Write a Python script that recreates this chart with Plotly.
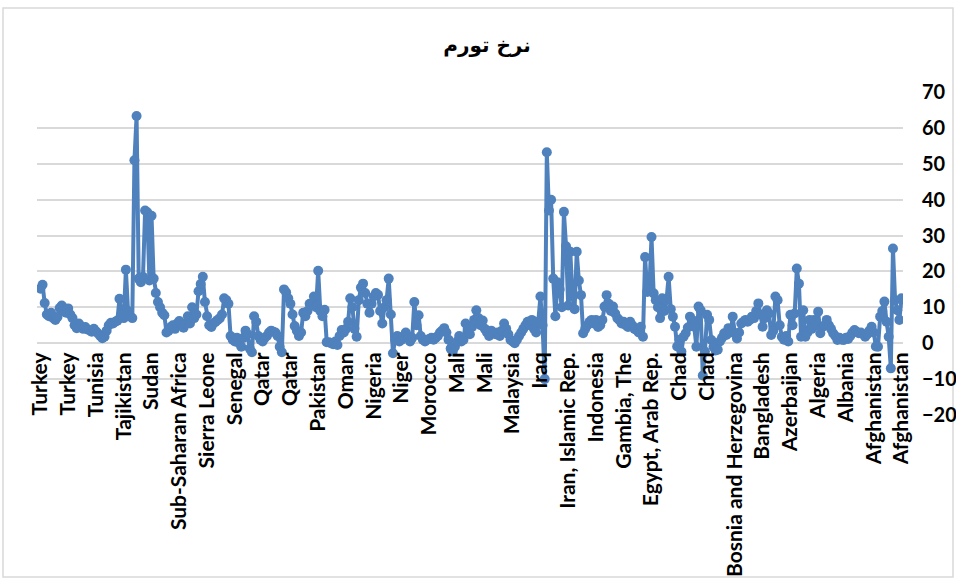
import plotly.graph_objects as go

inflation = [
    15.2, 16.3, 11.2, 8.0, 7.5, 8.5, 7.0, 6.5, 7.3, 9.8,
    10.5, 9.0, 8.5, 9.7, 8.0, 7.0, 5.0, 4.2, 5.5, 4.7,
    4.0, 4.5, 3.8, 3.6, 3.2, 4.0, 3.3, 2.7, 2.0, 1.4,
    1.8, 3.5, 5.0, 5.7, 5.5, 6.0, 6.3, 12.4, 8.0, 7.0,
    20.5, 9.0, 7.5, 7.0, 51.0, 63.3, 18.0, 17.0, 18.5, 37.0,
    36.5, 17.5, 35.5, 18.0, 14.0, 11.5, 10.0, 8.5, 7.8, 3.0,
    3.5, 4.5, 5.0, 4.0, 5.5, 6.2, 5.0, 4.3, 5.5, 7.5,
    5.5, 10.0, 7.0, 8.0, 14.5, 16.5, 18.5, 11.5, 7.5, 5.0,
    4.5, 5.5, 6.0, 6.5, 7.0, 8.0, 12.5, 12.0, 11.0, 2.0,
    1.0, 0.5, 1.5, 0.0, -1.0, 1.5, 3.5, 2.5, -1.5, -2.5,
    7.5, 6.0, 2.0, 1.0, 0.5, 1.5, 2.0, 3.0, 3.5, 3.2,
    3.0, 2.0, -1.0, -2.5, 15.0, 14.2, 12.5, 11.0, 8.0, 4.8,
    3.5, 2.0, 3.0, 8.5, 7.5, 9.0, 11.0, 11.0, 13.0, 10.0,
    20.2, 9.0, 7.5, 9.3, 0.3, 0.3, 0.0, -0.3, 0.5, -0.5,
    2.0, 3.7, 3.0, 4.0, 6.0, 12.5, 10.0, 4.0, 1.8, 12.0,
    15.5, 16.6, 14.0, 11.0, 8.5, 11.0, 13.0, 14.0, 13.5, 9.0,
    5.5, 10.0, 12.0, 18.0, 8.0, -2.8, 1.0, 2.0, 0.5, 1.0,
    2.0, 3.0, 2.0, 0.5, 1.5, 11.5, 5.0, 7.8, 2.0, 1.0,
    0.5, 1.0, 1.2, 1.5, 1.0, 1.5, 2.0, 3.0, 3.5, 4.2,
    3.0, 1.0, -1.5, -2.3, -1.0, 0.5, 2.0, 0.5, 1.0, 5.5,
    4.0, 2.5, 4.5, 6.5, 9.2, 7.0, 5.0, 6.3, 4.0, 3.0,
    2.0, 3.5, 3.0, 2.5, 3.0, 2.0, 3.5, 5.5, 4.0, 2.5,
    1.0, 0.5, 0.0, 1.0, 2.0, 3.0, 4.0, 5.0, 6.0, 5.0,
    6.5, 4.0, 3.0, 6.0, 13.0, 5.0, -10.0, 53.2, 37.0, 40.0,
    18.0, 7.5, 17.0, 15.0, 10.0, 36.6, 27.0, 10.5, 25.5, 13.0,
    9.5, 25.5, 17.5, 13.4, 2.8, 4.0, 5.0, 6.0, 6.5, 5.5,
    6.5, 4.5, 5.0, 6.5, 10.2, 13.4, 11.0, 9.0, 10.2, 8.3,
    7.0, 6.4, 5.5, 6.0, 5.0, 4.5, 6.0, 5.0, 4.0, 3.7,
    3.0, 4.6, 1.8, 24.0, 14.3, 15.0, 29.6, 13.9, 12.0, 10.0,
    7.0, 12.5, 9.0, 12.0, 18.5, 9.5, 7.4, 4.6, -0.9, 1.0,
    -2.3, 1.8, 2.8, 4.4, 7.4, 6.5, 4.6, -1.0, 10.2, 9.2,
    -9.0, -2.3, 7.9, 6.5, 0.9, -1.0, -2.0, -1.8, 0.5, 1.5,
    2.8, 2.3, 4.2, 3.0, 7.4, 2.8, 1.3, 3.0, 5.5, 6.0,
    6.5, 6.0, 6.5, 7.4, 7.0, 9.0, 11.1, 8.0, 4.6, 7.0,
    9.2, 8.3, 2.3, 3.5, 13.0, 12.0, 5.0, 1.8, 1.0, 2.0,
    0.5, 7.9, 5.0, 8.3, 20.8, 16.6, 1.8, 9.2, 1.8, 3.0,
    6.5, 4.0, 6.5, 5.0, 8.8, 2.8, 4.5, 5.0, 6.5, 5.0,
    4.0, 2.8, 2.0, 0.9, 1.5, 1.0, 0.9, 1.5, 1.2, 2.0,
    3.0, 3.7, 3.2, 2.8, 3.0, 2.5, 1.8, 2.5, 3.5, 4.6,
    3.0, -0.9, -1.0, 7.4, 9.0, 11.6, 6.0, 1.8, -7.0, 26.4,
    12.0, 9.2, 6.5, 12.5,
]

# Category labels shown on the axis (every 13th observation)
tick_labels = [
    "Turkey", "Turkey", "Tunisia", "Tajikistan", "Sudan", "Sub-Saharan Africa",
    "Sierra Leone", "Senegal", "Qatar", "Qatar", "Pakistan", "Oman", "Nigeria",
    "Niger", "Morocco", "Mali", "Mali", "Malaysia", "Iraq", "Iran, Islamic Rep.",
    "Indonesia", "Gambia, The", "Egypt, Arab Rep.", "Chad", "Chad",
    "Bosnia and Herzegovina", "Bangladesh", "Azerbaijan", "Algeria", "Albania",
    "Afghanistan", "Afghanistan",
]
label_step = 13

title_text = "نرخ تورم"
y_ticks = [-20, -10, 0, 10, 20, 30, 40, 50, 60, 70]

x_index = list(range(len(inflation)))
tick_positions = [i * label_step for i in range(len(tick_labels))]

blue = "#4F81BD"
grid = "#D9D9D9"

fig = go.Figure()
fig.add_trace(go.Scatter(
    x=x_index, y=inflation, mode="lines+markers",
    line=dict(color=blue, width=4),
    marker=dict(color=blue, size=10),
    showlegend=False, hoverinfo="y",
))

W, H = 956, 578
ml, mr, mt, mb = 37, 53, 92, 163
pw, ph = W - ml - mr, H - mt - mb

def px_x(X):
    return (X - ml) / pw

def px_y(Y):
    return (H - mb - Y) / ph

fig.update_layout(
    width=W, height=H,
    margin=dict(l=ml, r=mr, t=mt, b=mb, autoexpand=False),
    paper_bgcolor="white", plot_bgcolor="white",
    title=dict(text=title_text, x=487 / W, xref="container", xanchor="center",
               y=1 - 45 / H, yanchor="middle",
               font=dict(family="DejaVu Sans, Arial", size=20, color="black", weight="bold")),
    xaxis=dict(
        range=[-1.6, len(inflation) - 0.3],
        tickmode="array", tickvals=tick_positions, ticktext=tick_labels,
        tickangle=-90, showgrid=False, zeroline=False, showline=False,
        ticks="", anchor="free", position=20 / 90, ticklabelstandoff=4,
        tickfont=dict(family="Lato", size=21, color="black", weight="bold"),
        automargin=False,
    ),
    yaxis=dict(
        range=[-20, 70], side="right", tickmode="array", tickvals=y_ticks,
        showgrid=True, gridcolor=grid, gridwidth=1.5,
        zeroline=True, zerolinecolor=grid, zerolinewidth=1.5,
        showline=False, ticks="", ticklabelstandoff=18,
        tickfont=dict(family="Lato", size=20, color="black", weight="bold"),
        automargin=False,
    ),
    shapes=[dict(type="rect", xref="paper", yref="paper",
                 x0=px_x(3), x1=px_x(953), y0=px_y(577), y1=px_y(8),
                 line=dict(color="#D9D9D9", width=1.5), fillcolor="rgba(0,0,0,0)",
                 layer="below")],
)

fig.write_html("out.html", config={"displayModeBar": False},
               post_script="document.body.style.margin='0';document.body.style.overflow='hidden';")
